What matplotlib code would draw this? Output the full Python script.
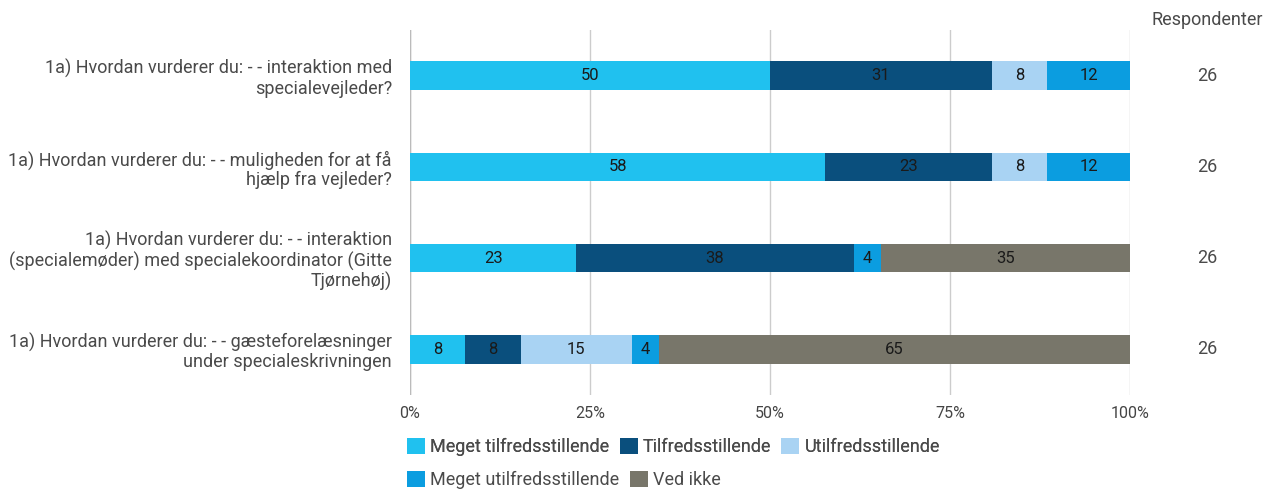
import matplotlib.pyplot as plt
from matplotlib.patches import Patch
import numpy as np

plt.rcParams['font.family'] = ['Roboto', 'DejaVu Sans']

questions = [
    "1a) Hvordan vurderer du: - - interaktion med\nspecialevejleder?",
    "1a) Hvordan vurderer du: - - muligheden for at få\nhjælp fra vejleder?",
    "1a) Hvordan vurderer du: - - interaktion\n(specialemøder) med specialekoordinator (Gitte\nTjørnehøj)",
    "1a) Hvordan vurderer du: - - gæsteforelæsninger\nunder specialeskrivningen",
]
answers = ["Meget tilfredsstillende", "Tilfredsstillende", "Utilfredsstillende",
           "Meget utilfredsstillende", "Ved ikke"]
colors = ["#20c1ef", "#0a4f7d", "#a9d3f3", "#0b9de0", "#78766a"]

# percent per answer, one list per answer (order = questions)
meget_tilfreds = [50.0, 57.7, 23.1, 7.7]
tilfreds = [30.8, 23.1, 38.5, 7.7]
utilfreds = [7.7, 7.7, 0.0, 15.4]
meget_utilfreds = [11.5, 11.5, 3.8, 3.8]
ved_ikke = [0.0, 0.0, 34.6, 65.4]
respondents = [26, 26, 26, 26]

series = [meget_tilfreds, tilfreds, utilfreds, meget_utilfreds, ved_ikke]

fig = plt.figure(figsize=(12.64, 4.9), dpi=100)
ax = fig.add_axes([410 / 1264, 95 / 490, 720 / 1264, 365 / 490])

ypos = np.arange(len(questions))
left = np.zeros(len(questions))
for vals, col, name in zip(series, colors, answers):
    vals = np.array(vals)
    ax.barh(ypos, vals, left=left, height=0.31, color=col, label=name, zorder=3)
    for y, v, l in zip(ypos, vals, left):
        if v > 0:
            ax.text(l + v / 2, y, f"{v:.0f}", ha='center', va='center',
                    fontsize=12, color='#1a1a1a', zorder=4)
    left += vals

ax.set_xlim(0, 100)
ax.set_ylim(3.5, -0.5)
ax.set_xticks([0, 25, 50, 75, 100])
ax.set_xticklabels(["0%", "25%", "50%", "75%", "100%"], fontsize=11.5, color='#444444')
ax.set_yticks(ypos)
ax.set_yticklabels(questions, fontsize=13, color='#4a4a4a', ha='right',
                   linespacing=1.1)
ax.tick_params(axis='y', length=0, pad=13)
ax.tick_params(axis='x', length=0, pad=8)
ax.grid(axis='x', color='#cccccc', linewidth=1, zorder=0)
for s in ax.spines.values():
    s.set_visible(False)
ax.axvline(0, color='#bbbbbb', linewidth=1, zorder=2)

for y, r in zip(ypos, respondents):
    ax.text(1.107, y, str(r), transform=ax.get_yaxis_transform(), ha='center',
            va='center', fontsize=13, color='#4a4a4a')
fig.text(1207 / 1264, 1 - 20 / 490, "Respondenter", ha='center', va='center',
         fontsize=13, color='#4a4a4a')

handles = [Patch(facecolor=c, edgecolor='none') for c in colors]
leg1 = fig.legend(handles[:3], answers[:3], loc='center left',
                  bbox_to_anchor=(407 / 1264, 1 - 447 / 490), ncol=3, frameon=False,
                  handlelength=1.0, handleheight=1.0, handletextpad=0.3,
                  columnspacing=0.55, borderaxespad=0, borderpad=0,
                  prop={'size': 13}, labelcolor='#4a4a4a')
leg2 = fig.legend(handles[3:], answers[3:], loc='center left',
                  bbox_to_anchor=(407 / 1264, 1 - 480 / 490), ncol=2, frameon=False,
                  handlelength=1.0, handleheight=1.0, handletextpad=0.3,
                  columnspacing=0.55, borderaxespad=0, borderpad=0,
                  prop={'size': 13}, labelcolor='#4a4a4a')
fig.add_artist(leg1)

fig.savefig('out.png', dpi=100)
